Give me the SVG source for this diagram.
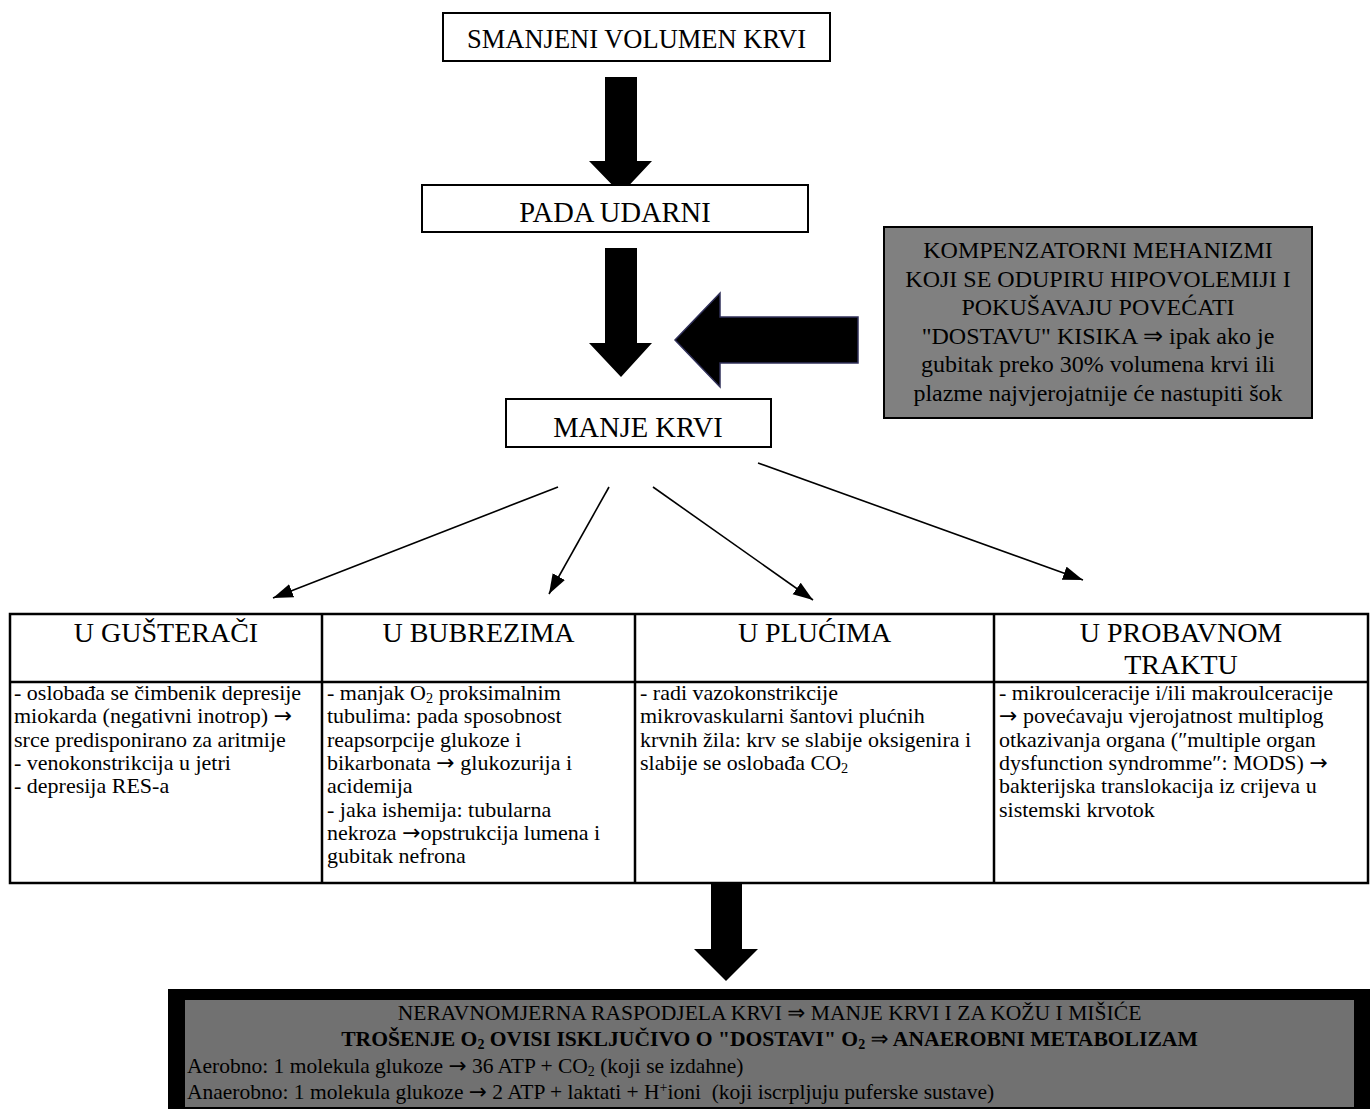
<svg xmlns="http://www.w3.org/2000/svg" width="1370" height="1109" viewBox="0 0 1370 1109">
<style>
.t{font-family:"Liberation Serif","Times New Roman","DejaVu Serif",serif;fill:#000}
.box{fill:#fff;stroke:#000;stroke-width:2}
.c{text-anchor:middle}
.h1{font-size:26.5px}
.h2{font-size:28.5px}
.hd{font-size:28px}
.bd{font-size:22px}
.gr{font-size:24px}
.bt{font-size:21.6px}
.bl{font-size:21.5px}
.ar{font-family:"DejaVu Sans",sans-serif;font-weight:normal}
.sub{font-size:65%}
.blk{fill:#000}
.thin{stroke:#000;stroke-width:1.6;fill:none;marker-end:url(#ah)}
.grid{stroke:#000;stroke-width:2.5;fill:none}
</style>
<defs>
<marker id="ah" markerUnits="userSpaceOnUse" markerWidth="22" markerHeight="16" refX="20" refY="7" orient="auto">
<path d="M0,0 L20,7 L0,14 Z" fill="#000"/>
</marker>
</defs>
<rect width="1370" height="1109" fill="#fff"/>

<g id="connectors">
<path class="blk" d="M605,77 L637,77 L637,161 L652,161 L621,194 L589,161 L605,161 Z"/>
<path class="blk" d="M605,248 L637,248 L637,343 L652,343 L621,377 L589,343 L605,343 Z"/>
<path class="blk" d="M858,317 L720,317 L720,293 L675,340 L720,387 L720,363 L858,363 Z" stroke="#30305a" stroke-width="1.5"/>
<line class="thin" x1="558" y1="487" x2="273" y2="598"/>
<line class="thin" x1="609" y1="487" x2="549" y2="594"/>
<line class="thin" x1="653" y1="487" x2="813" y2="600"/>
<line class="thin" x1="758" y1="463" x2="1083" y2="580"/>
<path class="blk" d="M711,884 L742,884 L742,949 L758,949 L726,981 L694,949 L711,949 Z"/>
</g>

<g id="smanjeni-volumen">
<rect class="box" x="443" y="13" width="387" height="48"/>
<text class="t c h1" x="636.5" y="48">SMANJENI VOLUMEN KRVI</text>
</g>

<g id="pada-udarni">
<rect class="box" x="422" y="185" width="386" height="47"/>
<text class="t c h2" x="615" y="222">PADA UDARNI</text>
</g>

<g id="manje-krvi">
<rect class="box" x="506" y="399" width="265" height="48"/>
<text class="t c h2" x="638" y="437">MANJE KRVI</text>
</g>

<g id="kompenzatorni">
<rect x="884" y="227" width="428" height="191" fill="#808080" stroke="#000" stroke-width="2"/>
<text class="t c gr" x="1098" y="258">KOMPENZATORNI MEHANIZMI</text>
<text class="t c gr" x="1098" y="286.5">KOJI SE ODUPIRU HIPOVOLEMIJI I</text>
<text class="t c gr" x="1098" y="315">POKUŠAVAJU POVEĆATI</text>
<text class="t c gr" x="1098" y="343.5">"DOSTAVU" KISIKA <tspan class="ar">⇒</tspan> ipak ako je</text>
<text class="t c gr" x="1098" y="372">gubitak preko 30% volumena krvi ili</text>
<text class="t c gr" x="1098" y="400.5">plazme najvjerojatnije će nastupiti šok</text>
</g>

<g id="table">
<rect class="grid" x="10" y="614" width="1358" height="269" fill="#fff"/>
<line class="grid" x1="10" y1="682" x2="1368" y2="682"/>
<line class="grid" x1="322" y1="614" x2="322" y2="883"/>
<line class="grid" x1="635" y1="614" x2="635" y2="883"/>
<line class="grid" x1="994" y1="614" x2="994" y2="883"/>
</g>

<g id="gusteraca">
<text class="t c hd" x="166" y="642">U GUŠTERAČI</text>
<text class="t bd" x="14" y="700">- oslobađa se čimbenik depresije</text>
<text class="t bd" x="14" y="723.3">miokarda (negativni inotrop) <tspan class="ar">→</tspan></text>
<text class="t bd" x="14" y="746.6">srce predisponirano za aritmije</text>
<text class="t bd" x="14" y="769.9">- venokonstrikcija u jetri</text>
<text class="t bd" x="14" y="793.2">- depresija RES-a</text>
</g>

<g id="bubrezi">
<text class="t c hd" x="478.5" y="642">U BUBREZIMA</text>
<text class="t bd" x="327" y="700">- manjak O<tspan class="sub" baseline-shift="-3">2</tspan> proksimalnim</text>
<text class="t bd" x="327" y="723.3">tubulima: pada sposobnost</text>
<text class="t bd" x="327" y="746.6">reapsorpcije glukoze i</text>
<text class="t bd" x="327" y="769.9">bikarbonata <tspan class="ar">→</tspan> glukozurija i</text>
<text class="t bd" x="327" y="793.2">acidemija</text>
<text class="t bd" x="327" y="816.5">- jaka ishemija: tubularna</text>
<text class="t bd" x="327" y="839.8">nekroza <tspan class="ar">→</tspan>opstrukcija lumena i</text>
<text class="t bd" x="327" y="863.1">gubitak nefrona</text>
</g>

<g id="pluca">
<text class="t c hd" x="814.5" y="642">U PLUĆIMA</text>
<text class="t bd" x="640" y="700">- radi vazokonstrikcije</text>
<text class="t bd" x="640" y="723.3">mikrovaskularni šantovi plućnih</text>
<text class="t bd" x="640" y="746.6">krvnih žila: krv se slabije oksigenira i</text>
<text class="t bd" x="640" y="769.9">slabije se oslobađa CO<tspan class="sub" baseline-shift="-3">2</tspan></text>
</g>

<g id="probavni-trakt">
<text class="t c hd" x="1181" y="642">U PROBAVNOM</text>
<text class="t c hd" x="1181" y="674">TRAKTU</text>
<text class="t bd" x="999" y="700">- mikroulceracije i/ili makroulceracije</text>
<text class="t bd" x="999" y="723.3"><tspan class="ar">→</tspan> povećavaju vjerojatnost multiplog</text>
<text class="t bd" x="999" y="746.6">otkazivanja organa (″multiple organ</text>
<text class="t bd" x="999" y="769.9">dysfunction syndromme″: MODS) <tspan class="ar">→</tspan></text>
<text class="t bd" x="999" y="793.2">bakterijska translokacija iz crijeva u</text>
<text class="t bd" x="999" y="816.5">sistemski krvotok</text>
</g>

<g id="neravnomjerna">
<rect x="168" y="989" width="1202" height="120" fill="#000"/>
<rect x="185" y="1000" width="1169" height="107" fill="#717171"/>
<text class="t c bt" x="769.5" y="1020">NERAVNOMJERNA RASPODJELA KRVI <tspan class="ar">⇒</tspan> MANJE KRVI I ZA KOŽU I MIŠIĆE</text>
<text class="t c bt" x="769.5" y="1046" font-weight="bold">TROŠENJE O<tspan class="sub" baseline-shift="-3">2</tspan> OVISI ISKLJUČIVO O "DOSTAVI" O<tspan class="sub" baseline-shift="-3">2</tspan> <tspan class="ar">⇒</tspan> ANAEROBNI METABOLIZAM</text>
<text class="t bl" x="187" y="1073">Aerobno: 1 molekula glukoze <tspan class="ar">→</tspan> 36 ATP + CO<tspan class="sub" baseline-shift="-3">2</tspan> (koji se izdahne)</text>
<text class="t bl" x="187" y="1099">Anaerobno: 1 molekula glukoze <tspan class="ar">→</tspan> 2 ATP + laktati + H<tspan class="sub" baseline-shift="7">+</tspan>ioni&#160; (koji iscrpljuju puferske sustave)</text>
</g>
</svg>
